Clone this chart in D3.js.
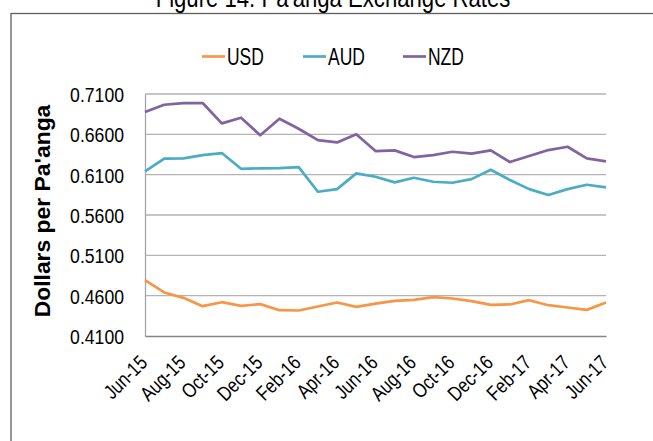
<!DOCTYPE html>
<html>
<head>
<meta charset="utf-8">
<script src="https://cdn.jsdelivr.net/npm/d3@7"></script>
<style>
  body { margin: 0; background: #fff; overflow: hidden; }
  text { font-family: "Liberation Sans", Arial, sans-serif; fill: #000; }
</style>
</head>
<body>
<div id="chart"></div>
<script>
var months = ["Jun-15","Jul-15","Aug-15","Sep-15","Oct-15","Nov-15","Dec-15","Jan-16","Feb-16","Mar-16","Apr-16","May-16",
  "Jun-16","Jul-16","Aug-16","Sep-16","Oct-16","Nov-16","Dec-16","Jan-17","Feb-17","Mar-17","Apr-17","May-17","Jun-17"];

var usd = [0.4792,0.4640,0.4573,0.4470,0.4519,0.4474,0.4495,0.4420,0.4416,0.4466,0.4515,0.4461,
  0.4502,0.4535,0.4548,0.4581,0.4565,0.4532,0.4486,0.4491,0.4544,0.4482,0.4453,0.4424,0.4515];
var aud = [0.6141,0.6298,0.6302,0.6343,0.6368,0.6173,0.6178,0.6182,0.6194,0.5888,0.5921,0.6116,
  0.6074,0.6004,0.6062,0.6012,0.6000,0.6045,0.6161,0.6033,0.5921,0.5847,0.5921,0.5975,0.5942];
var nzd = [0.6877,0.6967,0.6988,0.6988,0.6736,0.6806,0.6588,0.6794,0.6669,0.6529,0.6500,0.6600,
  0.6393,0.6401,0.6318,0.6343,0.6384,0.6360,0.6401,0.6256,0.6331,0.6405,0.6446,0.6302,0.6265];

var yTicks = [0.41,0.46,0.51,0.56,0.61,0.66,0.71];

var series = [
  {name: "USD", values: usd, color: "#F79646"},
  {name: "AUD", values: aud, color: "#4BACC6"},
  {name: "NZD", values: nzd, color: "#8064A2"}
];

var width = 653, height = 441;
var plotLeft = 145, plotRight = 606, plotTop = 94, plotBottom = 336;
var narrow = 0.82; // no Arial Narrow here, squeeze Liberation Sans instead

var svg = d3.select("#chart").append("svg")
  .attr("width", width)
  .attr("height", height);

// outer frame, right and bottom edges run off the picture
svg.append("rect")
  .attr("x", 11).attr("y", 13.5)
  .attr("width", 650).attr("height", 450)
  .attr("fill", "none")
  .attr("stroke", "#5f5f5f")
  .attr("stroke-width", 1.3);

// title, mostly cut off at the top
svg.append("text")
  .attr("transform", `translate(333,7) scale(${narrow},1)`)
  .attr("text-anchor", "middle")
  .style("font-size", "27px")
  .text("Figure 14: Pa'anga Exchange Rates");

var x = d3.scalePoint().domain(months).range([plotLeft, plotRight]);
var y = d3.scaleLinear().domain([0.41, 0.71]).range([plotBottom, plotTop]);

// gridlines
svg.append("g")
  .selectAll("line")
  .data(yTicks.slice(1))
  .enter().append("line")
  .attr("x1", plotLeft).attr("x2", plotRight)
  .attr("y1", d => y(d)).attr("y2", d => y(d))
  .attr("stroke", "#b3b3b3")
  .attr("stroke-width", 1.3);

// y axis
var yAxis = d3.axisLeft(y).tickValues(yTicks).tickSize(0).tickFormat(d3.format(".4f"));
var gy = svg.append("g").attr("transform", `translate(${plotLeft},0)`).call(yAxis);
gy.select(".domain").attr("stroke", "#a6a6a6").attr("stroke-width", 1.3);
gy.selectAll("text")
  .style("font-size", "20.5px")
  .attr("fill", "#000")
  .attr("x", 0)
  .attr("dy", "0.36em")
  .attr("transform", "translate(-21,0) scale(0.86,1)");

// x axis
var xAxis = d3.axisBottom(x).tickValues(months.filter((m, i) => i % 2 === 0)).tickSize(0);
var gx = svg.append("g").attr("transform", `translate(0,${plotBottom})`).call(xAxis);
gx.select(".domain").attr("stroke", "#868686").attr("stroke-width", 1.3);
gx.selectAll("text")
  .style("font-size", "20.5px")
  .attr("fill", "#000")
  .attr("text-anchor", "end")
  .attr("y", 0)
  .attr("dy", 0)
  .attr("transform", `translate(3,28) rotate(-45) scale(${narrow},1)`);

// lines
var line = d3.line()
  .x((d, i) => x(months[i]))
  .y(d => y(d));

svg.append("g")
  .selectAll("path")
  .data(series)
  .enter().append("path")
  .attr("d", d => line(d.values))
  .attr("fill", "none")
  .attr("stroke", d => d.color)
  .attr("stroke-width", 2.7)
  .attr("stroke-linejoin", "round");

// y axis title
svg.append("text")
  .attr("transform", "translate(50,211) rotate(-90) scale(1.04,1)")
  .attr("text-anchor", "middle")
  .style("font-size", "22px")
  .style("font-weight", "bold")
  .text("Dollars per Pa'anga");

// legend
var legendX = [202, 303, 403];
var leg = svg.append("g")
  .selectAll("g")
  .data(series)
  .enter().append("g")
  .attr("transform", (d, i) => `translate(${legendX[i]},56.5)`);
leg.append("line")
  .attr("x1", 0).attr("x2", 23)
  .attr("stroke", d => d.color)
  .attr("stroke-width", 2.7);
leg.append("text")
  .attr("transform", "translate(25,8.3) scale(0.76,1)")
  .style("font-size", "23px")
  .text(d => d.name);
</script>
</body>
</html>
